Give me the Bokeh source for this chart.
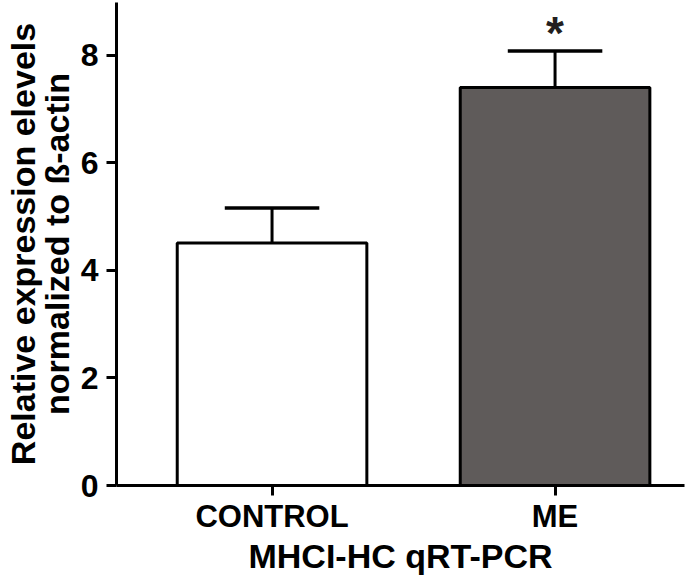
from bokeh.plotting import figure
from bokeh.models import FixedTicker, Range1d, ColumnDataSource
from bokeh.core.properties import value
from bokeh.embed import file_html
from bokeh.resources import INLINE

categories = ["CONTROL", "ME"]
means = [4.51, 7.40]
sems = [0.65, 0.68]
fill_colors = ["#ffffff", "#5f5b5a"]
signif = ["", "*"]
y_ticks = [0, 2, 4, 6, 8]
x_title = "MHCI-HC qRT-PCR"
y_title = "Relative expression elevels\nnormalized to \u00df-actin"

FONT = "Liberation Sans"

xs = list(range(len(categories)))
tops = [m + s for m, s in zip(means, sems)]
cap_half = 0.167
src = ColumnDataSource(dict(
    x=xs, mean=means, top=tops, fill=fill_colors, sig=signif,
    x0=[x - cap_half for x in xs], x1=[x + cap_half for x in xs],
))

p = figure(width=685, height=582, output_backend="svg", toolbar_location=None,
           x_range=Range1d(-0.5496, 1.4574), y_range=Range1d(0, 8.98),
           min_border_left=0, min_border_top=2, min_border_right=1, min_border_bottom=97)
p.outline_line_color = None
p.grid.visible = False
p.background_fill_color = "white"

p.vbar(x="x", top="mean", width=0.67, source=src, fill_color="fill",
       line_color="black", line_width=3)
p.segment(x0="x", y0="mean", x1="x", y1="top", source=src, line_color="black", line_width=3)
p.segment(x0="x0", y0="top", x1="x1", y1="top", source=src, line_color="black", line_width=3.5)
p.text(x="x", y="top", text="sig", source=src, text_font=value(FONT), text_font_style="bold",
       text_font_size="46px", text_align="center", text_baseline="alphabetic",
       text_color="#231f20", y_offset=-18)

for ax in (p.xaxis[0], p.yaxis[0]):
    ax.axis_line_width = 3
    ax.axis_line_color = "black"
    ax.major_tick_line_width = 3
    ax.major_tick_line_color = "black"
    ax.major_tick_out = 10
    ax.major_tick_in = 0
    ax.minor_tick_line_color = None
    ax.major_label_text_font = FONT
    ax.major_label_text_font_style = "bold"
    ax.major_label_text_color = "black"
    ax.axis_label_text_font = FONT
    ax.axis_label_text_font_style = "bold"
    ax.axis_label_text_color = "black"

p.yaxis.ticker = FixedTicker(ticks=y_ticks)
p.yaxis.major_label_text_font_size = "32px"
p.yaxis.major_label_standoff = 8
p.yaxis.axis_label = y_title
p.yaxis.axis_label_text_font_size = "34px"
p.yaxis.axis_label_text_line_height = 0.9
p.yaxis.axis_label_standoff = 2

p.xaxis.ticker = FixedTicker(ticks=xs)
p.xaxis.major_label_overrides = {x: c for x, c in zip(xs, categories)}
p.xaxis.major_label_text_font_size = "31px"
p.xaxis.major_label_standoff = 3
p.xaxis.axis_label = x_title
p.xaxis.axis_label_text_font_size = "34px"
p.xaxis.axis_label_standoff = 0

open("out.html", "w").write(file_html(p, INLINE))
